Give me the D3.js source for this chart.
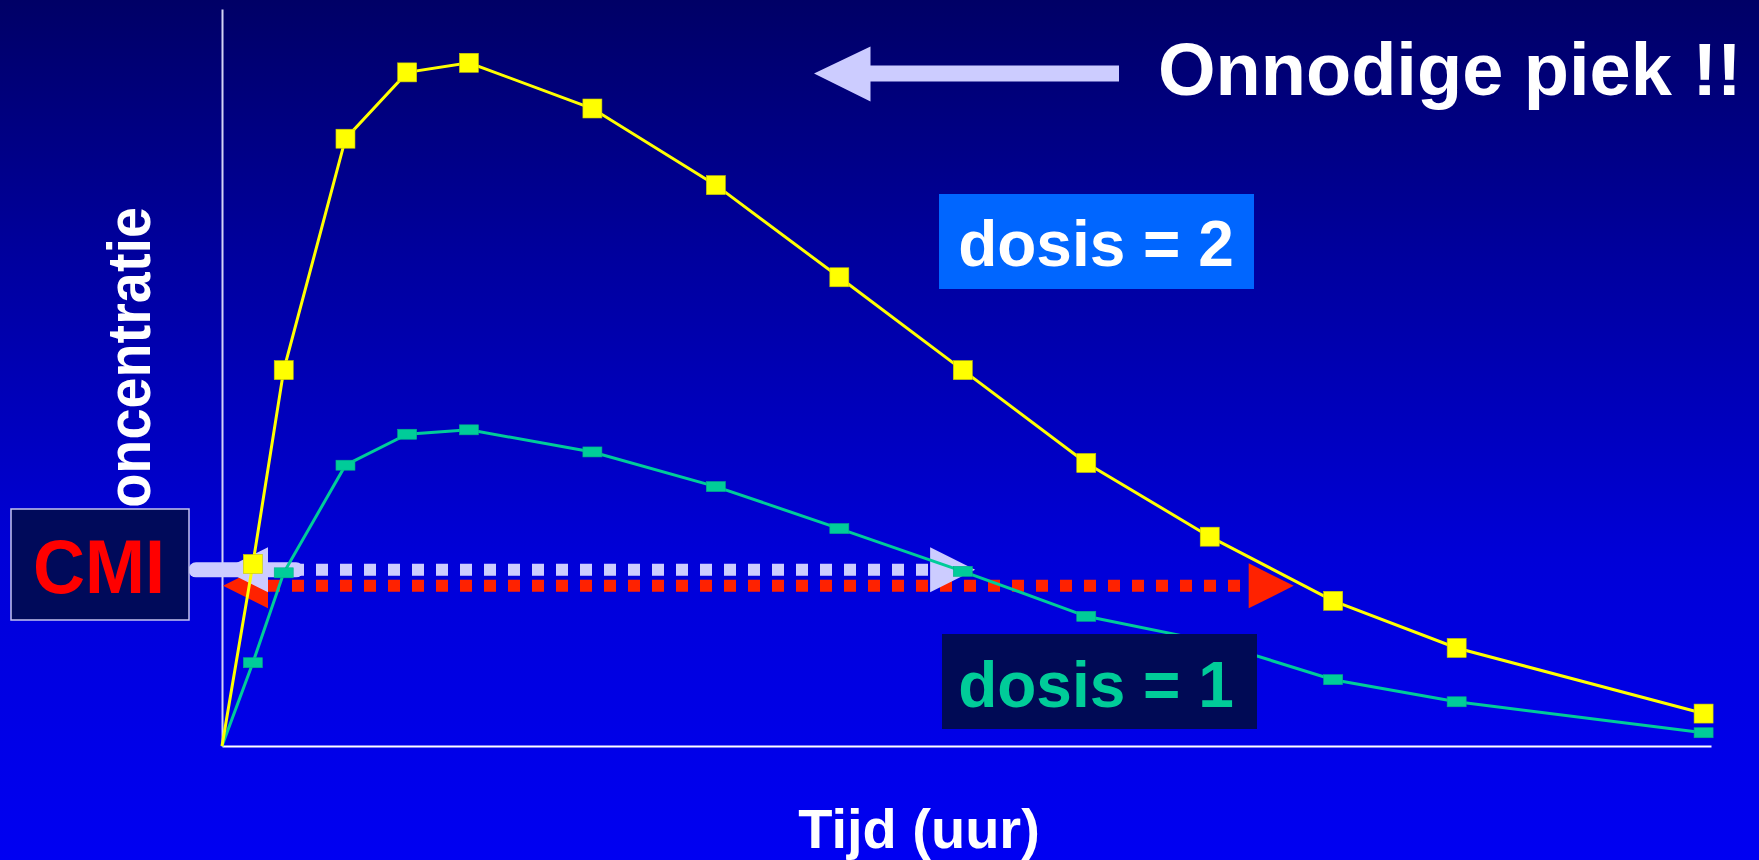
<!DOCTYPE html>
<html>
<head>
<meta charset="utf-8">
<script src="https://cdn.jsdelivr.net/npm/d3@7"></script>
<style>
  html, body { margin: 0; padding: 0; background: #000066; }
  svg { display: block; }
  text { font-family: "Liberation Sans", Arial, Helvetica, sans-serif; font-weight: bold; }
</style>
</head>
<body>
<svg id="chart" width="1759" height="860"></svg>
<script>
// ---- data ----
const times = [0, 0.25, 0.5, 1, 1.5, 2, 3, 4, 5, 6, 7, 8, 9, 10, 12];
const dose2 = [0, 24.7, 51.0, 82.4, 91.4, 92.7, 86.5, 76.1, 63.6, 51.0, 38.4, 28.4, 19.7, 13.3, 4.4];
const dose1 = [0, 11.3, 23.5, 38.1, 42.3, 42.9, 39.9, 35.2, 29.5, 23.7, 17.6, 14.2, 9.0, 6.0, 1.8];
const cmiLevel = 23.9;
const cmiSpanDose1 = [0, 6.1];   // time above CMI, dosis = 1
const cmiSpanDose2 = [0, 8.68];  // time above CMI, dosis = 2
const labels = {
  x: "Tijd (uur)",
  y: "Concentratie",
  cmi: "CMI",
  dose1: "dosis = 1",
  dose2: "dosis = 2",
  peak: "Onnodige piek !!"
};

// ---- setup ----
const W = 1759, H = 860;
const svg = d3.select("#chart");
const defs = svg.append("defs");
const grad = defs.append("linearGradient").attr("id", "bg")
  .attr("x1", 0).attr("y1", 0).attr("x2", 0).attr("y2", 1);
grad.append("stop").attr("offset", "0%").attr("stop-color", "#000066");
grad.append("stop").attr("offset", "30%").attr("stop-color", "#00009e");
grad.append("stop").attr("offset", "65%").attr("stop-color", "#0000d8");
grad.append("stop").attr("offset", "100%").attr("stop-color", "#0000f2");
svg.append("rect").attr("width", W).attr("height", H).attr("fill", "url(#bg)");

const x = d3.scaleLinear().domain([0, 12.06]).range([222, 1711]);
const y = d3.scaleLinear().domain([0, 100]).range([746, 9]);

// y axis label (partly hidden behind CMI box)
svg.append("text")
  .attr("transform", "translate(150,207) rotate(-90)")
  .attr("text-anchor", "end")
  .attr("font-size", 62)
  .attr("textLength", 341)
  .attr("lengthAdjust", "spacingAndGlyphs")
  .attr("fill", "#ffffff")
  .text(labels.y);

// axes (lines only)
const xAxis = svg.append("g").attr("transform", `translate(0,${y(0)})`)
  .call(d3.axisBottom(x).tickValues([]).tickSizeOuter(0));
xAxis.select(".domain").attr("stroke", "#ffffff").attr("stroke-width", 2.2);
const yAxis = svg.append("g").attr("transform", `translate(${x(0)},0)`)
  .call(d3.axisLeft(y).tickValues([]).tickSizeOuter(0));
yAxis.select(".domain").attr("stroke", "#d4d4f4").attr("stroke-width", 2);

// x axis title
svg.append("text")
  .attr("x", 919).attr("y", 848)
  .attr("text-anchor", "middle")
  .attr("font-size", 56)
  .attr("fill", "#ffffff")
  .text(labels.x);

// CMI double arrows
const head = 45;
function dottedArrow(span, yPix, color) {
  const g = svg.append("g");
  const x0 = x(span[0]) + 1, x1 = x(span[1]);
  g.append("line")
    .attr("x1", x0 + head).attr("x2", x1 - head)
    .attr("y1", yPix).attr("y2", yPix)
    .attr("stroke", color).attr("stroke-width", 12)
    .attr("stroke-dasharray", "12 12");
  g.append("path")
    .attr("d", `M${x0},${yPix} L${x0 + head},${yPix - head / 2} L${x0 + head},${yPix + head / 2} Z`)
    .attr("fill", color);
  g.append("path")
    .attr("d", `M${x1},${yPix} L${x1 - head},${yPix - head / 2} L${x1 - head},${yPix + head / 2} Z`)
    .attr("fill", color);
  return g;
}
dottedArrow(cmiSpanDose2, y(cmiLevel) + 16, "#ff2200");
dottedArrow(cmiSpanDose1, y(cmiLevel), "#ccccff");

// solid pointer from CMI box
svg.append("line")
  .attr("x1", 196).attr("x2", 296)
  .attr("y1", y(cmiLevel)).attr("y2", y(cmiLevel))
  .attr("stroke", "#ccccff").attr("stroke-width", 15)
  .attr("stroke-linecap", "round");

// CMI box
svg.append("rect")
  .attr("x", 11).attr("y", 509).attr("width", 178).attr("height", 111)
  .attr("fill", "#000a5a").attr("stroke", "#c4c4f0").attr("stroke-width", 1.5);
svg.append("text")
  .attr("x", 99).attr("y", 593)
  .attr("text-anchor", "middle")
  .attr("font-size", 76)
  .attr("textLength", 132)
  .attr("lengthAdjust", "spacingAndGlyphs")
  .attr("fill", "#ff0000")
  .text(labels.cmi);

// series lines
const line = d3.line().x((d, i) => x(times[i])).y(d => y(d));
svg.append("path").datum(dose1).attr("d", line)
  .attr("fill", "none").attr("stroke", "#00cc99").attr("stroke-width", 3);
svg.append("path").datum(dose2).attr("d", line)
  .attr("fill", "none").attr("stroke", "#ffff00").attr("stroke-width", 3);

// markers (skip origin)
svg.append("g").selectAll("rect")
  .data(dose1.map((v, i) => ({ t: times[i], v })).filter(d => d.t > 0))
  .join("rect")
  .attr("x", d => x(d.t) - 9.5).attr("y", d => y(d.v) - 5)
  .attr("width", 19).attr("height", 10)
  .attr("fill", "#00cc99").attr("stroke", "#00b088").attr("stroke-width", 0.6);
svg.append("g").selectAll("rect")
  .data(dose2.map((v, i) => ({ t: times[i], v })).filter(d => d.t > 0))
  .join("rect")
  .attr("x", d => x(d.t) - 9.5).attr("y", d => y(d.v) - 9.5)
  .attr("width", 19).attr("height", 19)
  .attr("fill", "#ffff00").attr("stroke", "#c8c800").attr("stroke-width", 0.6);

// dosis labels
svg.append("rect")
  .attr("x", 939).attr("y", 194).attr("width", 315).attr("height", 95)
  .attr("fill", "#0066ff");
svg.append("text")
  .attr("x", 1096).attr("y", 266)
  .attr("text-anchor", "middle")
  .attr("font-size", 64)
  .attr("fill", "#ffffff")
  .text(labels.dose2);

svg.append("rect")
  .attr("x", 942).attr("y", 634).attr("width", 315).attr("height", 95)
  .attr("fill", "#000a55");
svg.append("text")
  .attr("x", 1096).attr("y", 707)
  .attr("text-anchor", "middle")
  .attr("font-size", 64)
  .attr("fill", "#00cc99")
  .text(labels.dose1);

// peak annotation arrow + text
svg.append("path")
  .attr("d", "M814,73.5 L870.5,46.5 L870.5,65.5 L1119,65.5 L1119,81.5 L870.5,81.5 L870.5,101.5 Z")
  .attr("fill", "#ccccff");
svg.append("text")
  .attr("x", 1158).attr("y", 95)
  .attr("font-size", 74)
  .attr("fill", "#ffffff")
  .text(labels.peak);
</script>
</body>
</html>
